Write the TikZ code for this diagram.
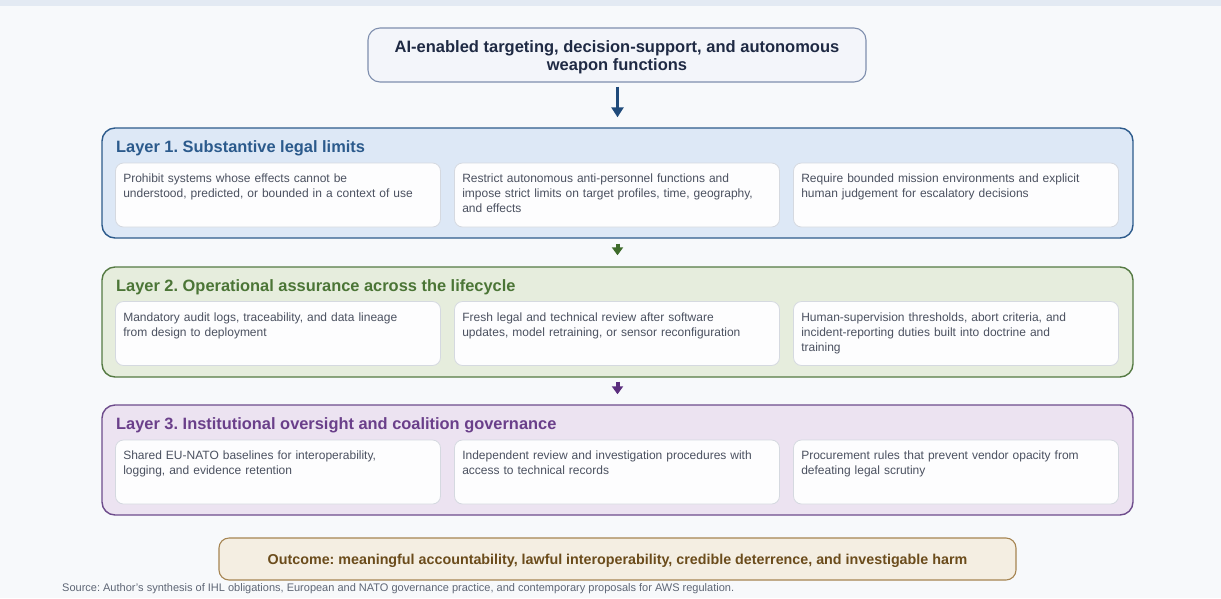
\documentclass[tikz,border=0pt]{standalone}
\usepackage{fontspec}
\setmainfont{Liberation Sans}
\usetikzlibrary{arrows.meta}
\frenchspacing
\definecolor{bgc}{HTML}{F7F9FB}
\definecolor{stripc}{HTML}{E3EAF3}
\definecolor{topfill}{HTML}{F3F5FA}
\definecolor{topline}{HTML}{7F8FAE}
\definecolor{toptext}{HTML}{1F2A44}
\definecolor{arrowa}{HTML}{1F4A7A}
\definecolor{lafill}{HTML}{DDE8F6}
\definecolor{laline}{HTML}{2D5B8C}
\definecolor{latext}{HTML}{2B5A8C}
\definecolor{lbfill}{HTML}{E6EDDD}
\definecolor{lbline}{HTML}{557A43}
\definecolor{lbtext}{HTML}{4B7536}
\definecolor{arrowb}{HTML}{3E6B2B}
\definecolor{lcfill}{HTML}{ECE3F1}
\definecolor{lcline}{HTML}{6E4C8C}
\definecolor{lctext}{HTML}{6A3F8A}
\definecolor{arrowc}{HTML}{5B2E7E}
\definecolor{subfill}{HTML}{FDFDFE}
\definecolor{subline}{HTML}{D5D9E0}
\definecolor{subtextc}{HTML}{4B5160}
\definecolor{outfill}{HTML}{F4EEE2}
\definecolor{outline}{HTML}{A68552}
\definecolor{outtext}{HTML}{6B4C1C}
\definecolor{srctext}{HTML}{5E6675}
\tikzset{
  layerbox/.style={draw, rounded corners=13pt, line width=1.4pt, minimum width=1031pt, minimum height=110pt, inner sep=0pt},
  subbox/.style={draw=subline, fill=subfill, rounded corners=8pt, line width=0.8pt, minimum width=325pt, minimum height=64pt, inner sep=0pt},
  subtext/.style={anchor=north west, inner sep=0pt, align=left, text width=318pt, text=subtextc, font=\fontsize{12}{15}\selectfont},
  layertitle/.style={anchor=base west, inner sep=0pt, font=\fontsize{16.4}{19}\selectfont\bfseries},
  bigarrow/.style={-{Triangle[length=10pt,width=12pt]}, line width=3pt},
  smallarrow/.style={-{Triangle[length=8pt,width=11pt]}, line width=4pt},
}
\begin{document}
\begin{tikzpicture}[x=1pt,y=-1pt]
\useasboundingbox (0,0) rectangle (1221,598);
\fill[bgc] (0,0) rectangle (1221,598);
\fill[stripc] (0,0) rectangle (1221,6);

% top box
\node[draw=topline, fill=topfill, line width=1.1pt, rounded corners=12pt, minimum width=498pt, minimum height=54pt] (top) at (617,55) {};
\node[align=center, inner sep=0pt, text=toptext, font=\fontsize{16.5}{18}\selectfont\bfseries] (toptxt) at (617,57.5) {AI-enabled targeting, decision-support, and autonomous\\weapon functions};

% layer 1
\node[layerbox, draw=laline, fill=lafill] (L1) at (617.5,183) {};
\node[layertitle, text=latext] (L1t) at (116,152.5) {Layer 1. Substantive legal limits};
\node[subbox] (s11) at (278,195) {};
\node[subbox] (s12) at (617,195) {};
\node[subbox] (s13) at (956,195) {};
\node[subtext] (t11) at ([shift={(8pt,-11pt)}]s11.north west) {Prohibit systems whose effects cannot be\\understood, predicted, or bounded in a context of use};
\node[subtext] (t12) at ([shift={(8pt,-11pt)}]s12.north west) {Restrict autonomous anti-personnel functions and\\impose strict limits on target profiles, time, geography,\\and effects};
\node[subtext] (t13) at ([shift={(8pt,-11pt)}]s13.north west) {Require bounded mission environments and explicit\\human judgement for escalatory decisions};

% layer 2
\node[layerbox, draw=lbline, fill=lbfill] (L2) at (617.5,322) {};
\node[layertitle, text=lbtext] (L2t) at (116,291.5) {Layer 2. Operational assurance across the lifecycle};
\node[subbox] (s21) at (278,333.5) {};
\node[subbox] (s22) at (617,333.5) {};
\node[subbox] (s23) at (956,333.5) {};
\node[subtext] (t21) at ([shift={(8pt,-11pt)}]s21.north west) {Mandatory audit logs, traceability, and data lineage\\from design to deployment};
\node[subtext] (t22) at ([shift={(8pt,-11pt)}]s22.north west) {Fresh legal and technical review after software\\updates, model retraining, or sensor reconfiguration};
\node[subtext] (t23) at ([shift={(8pt,-11pt)}]s23.north west) {Human-supervision thresholds, abort criteria, and\\incident-reporting duties built into doctrine and\\training};

% layer 3
\node[layerbox, draw=lcline, fill=lcfill] (L3) at (617.5,460) {};
\node[layertitle, text=lctext] (L3t) at (116,429.5) {Layer 3. Institutional oversight and coalition governance};
\node[subbox] (s31) at (278,472) {};
\node[subbox] (s32) at (617,472) {};
\node[subbox] (s33) at (956,472) {};
\node[subtext] (t31) at ([shift={(8pt,-11pt)}]s31.north west) {Shared EU-NATO baselines for interoperability,\\logging, and evidence retention};
\node[subtext] (t32) at ([shift={(8pt,-11pt)}]s32.north west) {Independent review and investigation procedures with\\access to technical records};
\node[subtext] (t33) at ([shift={(8pt,-11pt)}]s33.north west) {Procurement rules that prevent vendor opacity from\\defeating legal scrutiny};

% outcome
\node[draw=outline, fill=outfill, line width=1.1pt, rounded corners=10pt, minimum width=797pt, minimum height=42pt] (out) at (617.5,559) {};
\node[inner sep=0pt, text=outtext, font=\fontsize{14.3}{17}\selectfont\bfseries] (outtxt) at (617.5,561) {Outcome: meaningful accountability, lawful interoperability, credible deterrence, and investigable harm};

% source
\node[anchor=base west, inner sep=0pt, text=srctext, font=\fontsize{11}{13}\selectfont] (src) at (62,591) {Source: Author's synthesis of IHL obligations, European and NATO governance practice, and contemporary proposals for AWS regulation.};

% arrows
\draw[bigarrow, arrowa, shorten <=4pt, shorten >=10pt] (top.south -| L1.north) -- (L1.north);
\draw[smallarrow, arrowb, shorten <=5pt, shorten >=11pt] (L1.south) -- (L2.north);
\draw[smallarrow, arrowc, shorten <=4pt, shorten >=10pt] (L2.south) -- (L3.north);
\end{tikzpicture}
\end{document}
